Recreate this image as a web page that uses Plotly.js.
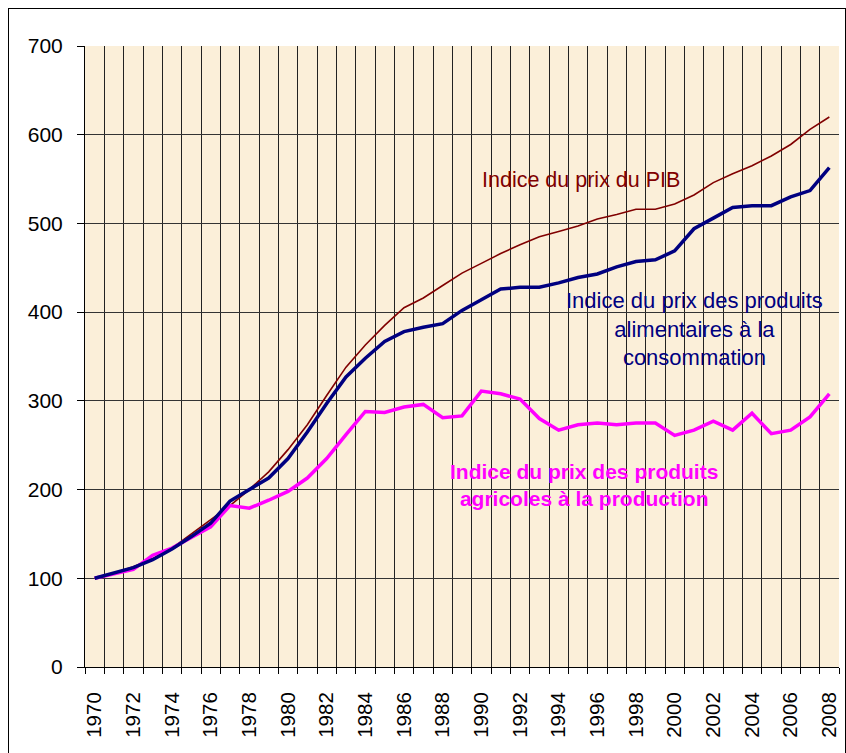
<!DOCTYPE html>
<html>
<head>
<meta charset="utf-8">
<script src="https://cdn.plot.ly/plotly-3.0.1.min.js"></script>
<style>
html,body{margin:0;padding:0;background:#fff;}
#wrap{position:relative;width:846px;height:753px;overflow:hidden;}
#chart{width:846px;height:753px;}
#frame{position:absolute;left:8px;top:8px;width:836px;height:760px;border:1px solid #000;pointer-events:none;}
</style>
</head>
<body>
<div id="wrap"><div id="chart"></div><div id="frame"></div></div>
<script>
const years = [1970,1971,1972,1973,1974,1975,1976,1977,1978,1979,1980,1981,1982,1983,1984,1985,1986,1987,1988,1989,1990,1991,1992,1993,1994,1995,1996,1997,1998,1999,2000,2001,2002,2003,2004,2005,2006,2007,2008];
const pibIndex = [100,106,113,122,134,150,165,182,200,220,245,273,306,338,363,385,405,416,430,444,455,466,476,485,491,497,505,510,516,516,522,532,546,556,565,576,589,606,620];
const foodConsumerIndex = [100,106,112,121,133,147,162,187,200,213,235,265,297,327,348,367,378,383,387,402,414,426,428,428,433,439,443,451,457,459,469,494,506,518,520,520,530,537,563];
const farmProducerIndex = [100,105,110,126,134,146,158,182,179,188,198,213,235,262,288,287,293,296,281,283,311,308,302,280,267,273,275,273,275,275,261,267,277,267,286,263,267,282,308];
const tickYears = [1970,1972,1974,1976,1978,1980,1982,1984,1986,1988,1990,1992,1994,1996,1998,2000,2002,2004,2006,2008];

const font = 'Arial, "Liberation Sans", sans-serif';
const traces = [
  {x: years, y: pibIndex, type:'scatter', mode:'lines', line:{color:'#800000', width:1.6}, name:'PIB'},
  {x: years, y: farmProducerIndex, type:'scatter', mode:'lines', line:{color:'#FF00FF', width:3.5}, name:'agri'},
  {x: years, y: foodConsumerIndex, type:'scatter', mode:'lines', line:{color:'#000080', width:3.5}, name:'alim'}
];
const layout = {
  width:846, height:753,
  margin:{l:85, r:7, t:46, b:86},
  paper_bgcolor:'rgba(0,0,0,0)',
  plot_bgcolor:'#FBEFD9',
  showlegend:false,
  font:{family:font, color:'#000'},
  xaxis:{
    range:[1969.5, 2008.5],
    tickvals: tickYears,
    ticktext: tickYears.map(String),
    tickangle:-90,
    ticks:'',
    showgrid:false,
    ticklabelstandoff:16,
    tickfont:{size:20.5, family:font, color:'#000'},
    showline:true, linecolor:'#000', linewidth:1,
    zeroline:false,
    minor:{tick0:1969.5, dtick:1, showgrid:true, gridcolor:'#222', gridwidth:1, ticks:'outside', ticklen:6, tickcolor:'#000', tickwidth:1}
  },
  yaxis:{
    range:[0,700],
    dtick:100,
    tick0:0,
    ticks:'outside', ticklen:7, tickcolor:'#000', tickwidth:1,
    ticklabelstandoff:10,
    tickfont:{size:21, family:font, color:'#000'},
    showgrid:true, gridcolor:'#333', gridwidth:1,
    showline:true, linecolor:'#000', linewidth:1,
    zeroline:true, zerolinecolor:'#000', zerolinewidth:1
  },
  annotations:[
    {x:1995.14, y:549, xref:'x', yref:'y', text:'Indice du prix du PIB', showarrow:false,
     font:{size:21.5, color:'#800000', family:font}},
    {x:2001.0, y:381, xref:'x', yref:'y', text:'Indice du prix des produits<br>alimentaires à la<br>consommation', showarrow:false, align:'center',
     font:{size:22, color:'#000080', family:font}},
    {x:1995.3, y:205, xref:'x', yref:'y', text:'<b>Indice du prix des produits<br>agricoles à la production</b>', showarrow:false, align:'center',
     font:{size:21, color:'#FF00FF', family:font}}
  ]
};
Plotly.newPlot('chart', traces, layout, {displayModeBar:false, staticPlot:true});
</script>
</body>
</html>
